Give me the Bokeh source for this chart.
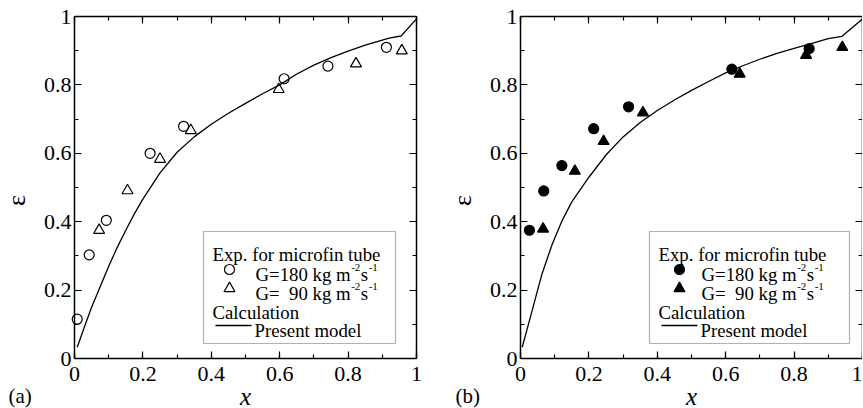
from bokeh.plotting import figure
from bokeh.models import (Range1d, LinearAxis, SingleIntervalTicker,
                          CustomJSTickFormatter, Label, BoxAnnotation)
from bokeh.layouts import row
from bokeh.embed import file_html
from bokeh.resources import INLINE

# ---------------- data ----------------
# panel (a): open symbols
a_g180_x = [0.008, 0.043, 0.093, 0.221, 0.319, 0.613, 0.741, 0.912]
a_g180_y = [0.115, 0.303, 0.404, 0.600, 0.679, 0.818, 0.855, 0.910]
a_g90_x = [0.072, 0.155, 0.250, 0.340, 0.597, 0.823, 0.957]
a_g90_y = [0.375, 0.491, 0.583, 0.667, 0.787, 0.862, 0.900]
a_model_x = [0.008, 0.03, 0.05, 0.075, 0.1, 0.125, 0.15, 0.175, 0.2, 0.25,
             0.3, 0.35, 0.4, 0.45, 0.5, 0.55, 0.6, 0.65, 0.7, 0.75, 0.8,
             0.85, 0.92, 0.955, 1.0]
a_model_y = [0.033, 0.095, 0.15, 0.21, 0.27, 0.325, 0.375, 0.423, 0.466, 0.543,
             0.603, 0.648, 0.685, 0.717, 0.746, 0.774, 0.80, 0.832, 0.858,
             0.88, 0.899, 0.916, 0.937, 0.943, 0.993]

# panel (b): filled symbols
b_g180_x = [0.026, 0.068, 0.121, 0.214, 0.316, 0.618, 0.844]
b_g180_y = [0.375, 0.490, 0.564, 0.672, 0.736, 0.846, 0.906]
b_g90_x = [0.066, 0.159, 0.243, 0.358, 0.641, 0.835, 0.941]
b_g90_y = [0.379, 0.548, 0.635, 0.719, 0.832, 0.887, 0.910]
b_model_x = [0.005, 0.034, 0.063, 0.093, 0.122, 0.15, 0.2, 0.25, 0.3, 0.35,
             0.4, 0.45, 0.5, 0.55, 0.6, 0.65, 0.7, 0.75, 0.8, 0.85, 0.9,
             0.94, 1.0]
b_model_y = [0.033, 0.14, 0.248, 0.335, 0.404, 0.458, 0.530, 0.595, 0.648,
             0.690, 0.725, 0.756, 0.784, 0.810, 0.835, 0.856, 0.875, 0.892,
             0.907, 0.921, 0.935, 0.942, 0.993]

tick_interval = 0.2
x_title = "x"
y_title = "ε"
legend_header = "Exp. for microfin tube"
legend_calc = "Calculation"
legend_model = "Present model"

# ---------------- style ----------------
FONT = "Liberation Serif"
FRAME = 342          # size of the [0,1]x[0,1] box in px
TOP = 16
HEIGHT = 408
TICK_FS = 22
LEG_FS = 18.8
SUP_FS = 11
AX_FS = 26

# Times / Liberation Serif advance widths (per 1000 em)
W = {"G": 722, "=": 564, "1": 500, "8": 500, "0": 500, "9": 500, " ": 250,
     "k": 500, "g": 500, "m": 778, "s": 389, "-": 333, "2": 500}


def tw(s, fs):
    return sum(W[c] for c in s) * fs / 1000.0


def dx(px):
    return px / FRAME


def dy(px):
    return 1 - px / FRAME


def label(p, rx, ry, text, fs, **kw):
    p.add_layout(Label(x=dx(rx), y=dy(ry), text=text, text_font=FONT,
                       text_font_size=f"{fs}px", text_color="black",
                       text_baseline=kw.pop("baseline", "alphabetic"),
                       text_align=kw.pop("align", "left"), **kw))


def add_axis(p, side, loc, labelled):
    ax = LinearAxis(fixed_location=loc, bounds=(0, 1),
                    ticker=SingleIntervalTicker(interval=tick_interval,
                                                num_minor_ticks=2),
                    major_tick_in=7, major_tick_out=0, minor_tick_in=4,
                    minor_tick_out=0, axis_line_color="black",
                    axis_line_width=1.5, major_tick_line_color="black",
                    minor_tick_line_color="black", major_tick_line_width=1.2,
                    minor_tick_line_width=1.2)
    if labelled:
        ax.formatter = CustomJSTickFormatter(
            code="return (Math.round(tick*10)/10).toString();")
        ax.major_label_text_font = FONT
        ax.major_label_text_font_size = f"{TICK_FS}px"
        ax.major_label_text_color = "black"
        ax.major_label_standoff = 8 if side == "below" else 3
    else:
        ax.formatter = CustomJSTickFormatter(code="return '';")
        ax.major_label_standoff = 0
    p.add_layout(ax, side)


def make_panel(tag, cx, cy, tx, ty, mx, my, filled, width, left,
               box_right, mk_x, tag_x):
    x_start = -left / FRAME
    x_end = (width - left) / FRAME
    y_end = 1 + TOP / FRAME
    y_start = -(HEIGHT - TOP - FRAME) / FRAME
    p = figure(width=width, height=HEIGHT,
               x_range=Range1d(x_start, x_end),
               y_range=Range1d(y_start, y_end),
               output_backend="svg", toolbar_location=None,
               x_axis_location=None, y_axis_location=None,
               min_border_left=0, min_border_right=0, min_border_top=0,
               min_border_bottom=0)
    p.grid.visible = False
    p.outline_line_color = None
    p.background_fill_color = "white"
    p.border_fill_color = "white"

    add_axis(p, "below", 0, True)
    add_axis(p, "left", 0, True)
    add_axis(p, "above", 1, False)
    add_axis(p, "right", 1, False)

    p.line(mx, my, line_color="black", line_width=1.3)
    fill = "black" if filled else None
    p.scatter(cx, cy, marker="circle", size=10, fill_color=fill,
              line_color="black", line_width=1.2)
    p.scatter(tx, ty, marker="triangle", size=11, fill_color=fill,
              line_color="black", line_width=1.2)

    # axis titles and panel tag
    label(p, FRAME / 2, FRAME + 38, x_title, 25, align="center",
          text_font_style="italic")
    label(p, -58, 184, y_title, AX_FS, align="center", angle=90,
          angle_units="deg")
    label(p, tag_x, FRAME + 37, tag, 21)

    # legend
    p.add_layout(BoxAnnotation(left=dx(129), right=dx(box_right), top=dy(215),
                               bottom=dy(327), fill_color=None,
                               line_color="black", line_width=1.2))
    label(p, 138, 238, legend_header, LEG_FS)
    p.scatter([dx(mk_x)], [dy(253)], marker="circle", size=10,
              fill_color=fill, line_color="black", line_width=1.2)
    p.scatter([dx(mk_x)], [dy(272)], marker="triangle", size=11,
              fill_color=fill, line_color="black", line_width=1.2)
    x0 = 181
    label(p, x0, 258, "G=180 kg m", LEG_FS)
    label(p, x0, 277, "G=", LEG_FS)
    label(p, x0 + tw("G=1", LEG_FS), 277, "90 kg m", LEG_FS)
    xm = x0 + tw("G=180 kg m", LEG_FS)
    for base in (258, 277):
        label(p, xm + 0.5, base - 7, "-2", SUP_FS)
        xs = xm + tw("-2", SUP_FS) + 1
        label(p, xs, base, "s", LEG_FS)
        label(p, xs + tw("s", LEG_FS) + 0.5, base - 7, "-1", SUP_FS)
    label(p, 138, 296, legend_calc, LEG_FS)
    p.segment(x0=[dx(141)], y0=[dy(309)], x1=[dx(177)], y1=[dy(309)],
              line_color="black", line_width=1.3)
    label(p, 180, 314, legend_model, LEG_FS)
    return p


pa = make_panel("(a)", a_g180_x, a_g180_y, a_g90_x, a_g90_y, a_model_x,
                a_model_y, False, 450, 74, 321, 155, -66)
pb = make_panel("(b)", b_g180_x, b_g180_y, b_g90_x, b_g90_y, b_model_x,
                b_model_y, True, 412, 70, 329, 159, -65)

layout = row(pa, pb)
open("out.html", "w").write(file_html(layout, INLINE))
